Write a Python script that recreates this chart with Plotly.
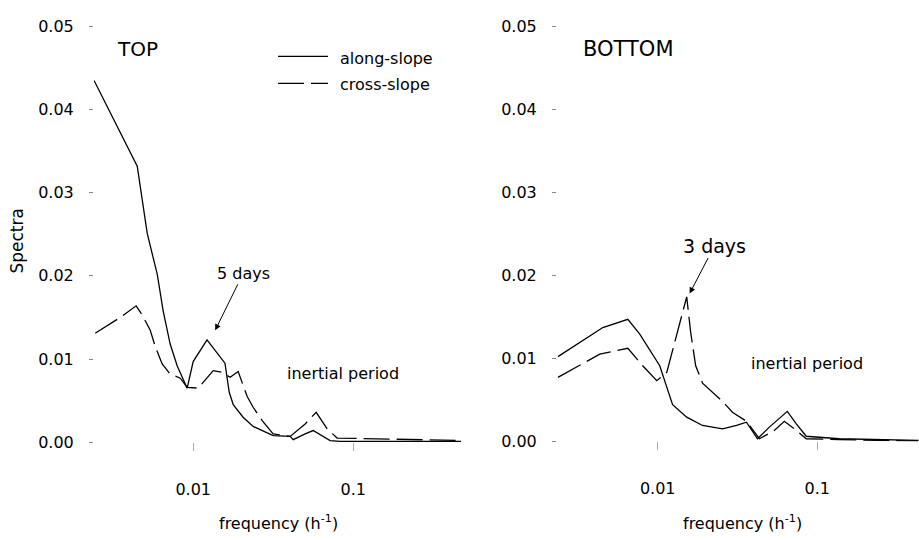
import math
import plotly.graph_objects as go

# ---------------- data (frequency in h^-1, spectra) ----------------
top_freq_along = [0.0024, 0.00447, 0.00516, 0.00596, 0.00649, 0.00718, 0.00794, 0.00917,
                  0.0100, 0.0122, 0.0158, 0.0168, 0.0178, 0.0205, 0.0237, 0.0274, 0.0316,
                  0.0404, 0.0422, 0.0501, 0.0562, 0.0718, 0.0830, 0.473]
top_along = [0.0435, 0.0332, 0.0251, 0.0202, 0.0158, 0.0118, 0.0092, 0.0065,
             0.0097, 0.0123, 0.0095, 0.0060, 0.0045, 0.0030, 0.0019, 0.0013, 0.0008,
             0.0007, 0.0003, 0.0010, 0.0014, 0.0002, 0.0001, 0.0001]

top_freq_cross = [0.00244, 0.0035, 0.0044, 0.0048, 0.00538, 0.00579, 0.0064, 0.00718,
                  0.0083, 0.00917, 0.01075, 0.01334, 0.01518, 0.01703, 0.0191, 0.02175,
                  0.02371, 0.0270, 0.0316, 0.0404, 0.0501, 0.0587, 0.0688, 0.0794, 0.473]
top_cross = [0.0131, 0.0150, 0.0164, 0.0153, 0.0135, 0.0115, 0.0094, 0.0082,
             0.0077, 0.0066, 0.0065, 0.0086, 0.0084, 0.0078, 0.0085, 0.0055,
             0.0042, 0.0026, 0.0010, 0.0007, 0.0022, 0.0036, 0.0016, 0.0005, 0.0002]

bot_freq_along = [0.00237, 0.00453, 0.0065, 0.00772, 0.0103, 0.0124, 0.0152, 0.0191,
                  0.0255, 0.0312, 0.0360, 0.0422, 0.0501, 0.0649, 0.0739, 0.0853, 0.137, 0.43]
bot_along = [0.0102, 0.0137, 0.0147, 0.0129, 0.0091, 0.0044, 0.0029, 0.0019,
             0.0015, 0.0019, 0.0023, 0.0003, 0.0017, 0.0036, 0.0021, 0.0006, 0.0003, 0.0001]

bot_freq_cross = [0.00237, 0.00434, 0.0065, 0.00806, 0.00986, 0.0114, 0.0152, 0.0161,
                  0.0173, 0.0191, 0.0255, 0.0294, 0.0360, 0.0434, 0.0538, 0.0622, 0.0739,
                  0.0853, 0.137, 0.43]
bot_cross = [0.0077, 0.0105, 0.0112, 0.0091, 0.0073, 0.0083, 0.0174, 0.0131,
             0.0091, 0.0070, 0.0048, 0.0035, 0.0024, 0.0003, 0.0013, 0.0024, 0.0013,
             0.0003, 0.0002, 0.0000]

# annotated peaks: (frequency, spectra) at the arrow tips
peak_5days = (0.01373, 0.01346)
peak_3days = (0.01585, 0.0178)

series_names = ["along-slope", "cross-slope"]
panel_titles = ["TOP", "BOTTOM"]
y_ticks = [0.00, 0.01, 0.02, 0.03, 0.04, 0.05]
x_ticks = [0.01, 0.1]
x_ticktext = ["0.01", "0.1"]

FONT = "DejaVu Sans"
W, H = 919, 540
DASH = "26px,7px"

fig = go.Figure()
line_solid = dict(color="black", width=1.3)
line_dash = dict(color="black", width=1.3, dash=DASH)

fig.add_trace(go.Scatter(x=top_freq_along, y=top_along, mode="lines", line=line_solid,
                         xaxis="x", yaxis="y", showlegend=False))
fig.add_trace(go.Scatter(x=top_freq_cross, y=top_cross, mode="lines", line=line_dash,
                         xaxis="x", yaxis="y", showlegend=False))
fig.add_trace(go.Scatter(x=bot_freq_along, y=bot_along, mode="lines", line=line_solid,
                         xaxis="x2", yaxis="y2", showlegend=False))
fig.add_trace(go.Scatter(x=bot_freq_cross, y=bot_cross, mode="lines", line=line_dash,
                         xaxis="x2", yaxis="y2", showlegend=False))

def px(x):
    return x / W

def py(y):
    return 1 - y / H

xcommon = dict(type="log", showgrid=False, zeroline=False, showline=False,
               tickvals=x_ticks, ticktext=x_ticktext, ticks="outside", ticklen=8,
               tickcolor="#aaaaaa", tickwidth=1,
               tickfont=dict(family=FONT, size=16, color="black"),
               ticklabelstandoff=25)
ycommon = dict(range=[0, 0.05], showgrid=False, zeroline=False, showline=False,
               tickvals=y_ticks, tickformat=".2f", ticks="outside", ticklen=4,
               tickcolor="#888888", tickwidth=1,
               tickfont=dict(family=FONT, size=16, color="black"),
               ticklabelstandoff=12)

fig.update_layout(
    width=W, height=H,
    margin=dict(l=0, r=0, t=0, b=0),
    paper_bgcolor="white", plot_bgcolor="white",
    showlegend=False,
    xaxis=dict(domain=[px(94), px(461)], range=[-2.62, -0.326], anchor="y", **xcommon),
    yaxis=dict(domain=[py(449), py(18)], anchor="x", **ycommon),
    xaxis2=dict(domain=[px(557), 1.0], range=[-2.631, -0.3625], anchor="y2", **xcommon),
    yaxis2=dict(domain=[py(448), py(18)], anchor="x2", **ycommon),
)

ann = []
def text(x, y, s, size=16, angle=0, xanchor="center"):
    ann.append(dict(x=px(x), y=py(y), xref="paper", yref="paper", text=s, showarrow=False,
                    font=dict(family=FONT, size=size, color="black"), textangle=angle,
                    xanchor=xanchor, yanchor="middle"))

text(137, 41, panel_titles[0], size=20)
text(628, 41, panel_titles[1], size=21)
text(17, 241, "Spectra", size=17, angle=-90)
text(278, 532, "frequency (h<sup>-1</sup>)", size=16)
text(742, 532, "frequency (h<sup>-1</sup>)", size=16)
text(343, 378, "inertial period", size=16)
text(807, 367, "inertial period", size=16)
# legend texts
text(338, 51, series_names[0], size=16, xanchor="left")
text(338, 78, series_names[1], size=16, xanchor="left")

# labelled arrows (tip in data coords; log axis needs log10 of x)
ann.append(dict(x=math.log10(peak_5days[0]), y=peak_5days[1], xref="x", yref="y",
                text="5 days", showarrow=True,
                ax=28, ay=-57, arrowhead=2, arrowsize=1.2, arrowwidth=1, arrowcolor="black",
                font=dict(family=FONT, size=16, color="black")))
ann.append(dict(x=math.log10(peak_3days[0]), y=peak_3days[1], xref="x2", yref="y2",
                text="3 days", showarrow=True,
                ax=25, ay=-48, arrowhead=2, arrowsize=1.2, arrowwidth=1, arrowcolor="black",
                font=dict(family=FONT, size=19, color="black")))
fig.update_layout(annotations=ann)

# legend line samples
fig.add_shape(type="line", xref="paper", yref="paper", x0=px(278), x1=px(328), y0=py(49), y1=py(49),
              line=dict(color="black", width=1.3))
fig.add_shape(type="line", xref="paper", yref="paper", x0=px(278), x1=px(328), y0=py(77), y1=py(77),
              line=dict(color="black", width=1.3, dash=DASH))

fig.write_html("out.html")
